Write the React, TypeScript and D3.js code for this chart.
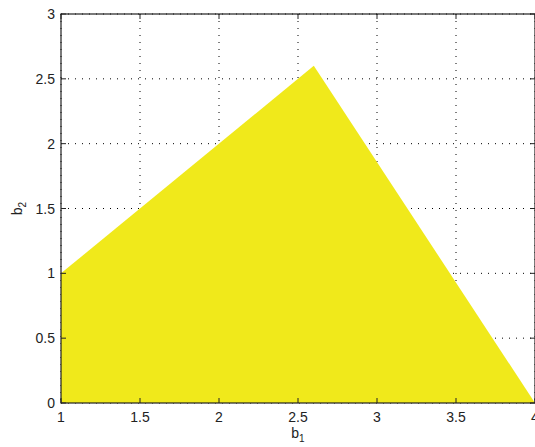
import React from "react";
import * as d3 from "d3";

const xTicks = [1, 1.5, 2, 2.5, 3, 3.5, 4];
const yTicks = [0, 0.5, 1, 1.5, 2, 2.5, 3];
const regionX = [1, 1, 2.6, 4];
const regionY = [0, 1, 2.6, 0];
const fillColor = "#f0e91b";

export default function App() {
  const W = 535, H = 447;
  const left = 61, right = 535, top = 14, bottom = 403;
  const x = d3.scaleLinear().domain([1, 4]).range([left, right]);
  const y = d3.scaleLinear().domain([0, 3]).range([bottom, top]);
  const pts: [number, number][] = regionX.map((v, i) => [v, regionY[i]]);
  const line = d3.line<[number, number]>().x(d => x(d[0])).y(d => y(d[1]));
  const path = line(pts) + "Z";
  const font = "Helvetica, Arial, 'Liberation Sans', sans-serif";
  return (
    <svg width={W} height={H} style={{ position: "absolute", left: 0, top: 0 }} fontFamily={font}>
      <rect width={W} height={H} fill="white" />
      {xTicks.map(t => (
        <line key={"gx" + t} x1={x(t)} x2={x(t)} y1={top} y2={bottom} stroke="#000" strokeWidth={1} strokeDasharray="1,6" />
      ))}
      {yTicks.map(t => (
        <line key={"gy" + t} x1={left} x2={right} y1={y(t)} y2={y(t)} stroke="#000" strokeWidth={1} strokeDasharray="1,6" />
      ))}
      <path d={path} fill={fillColor} stroke="none" />
      <rect x={left} y={top} width={right - left} height={bottom - top} fill="none" stroke="#222" strokeWidth={1.2} />
      {xTicks.map(t => (
        <g key={"tx" + t}>
          <line x1={x(t)} x2={x(t)} y1={bottom} y2={bottom - 5} stroke="#222" />
          <line x1={x(t)} x2={x(t)} y1={top} y2={top + 5} stroke="#222" />
          <text x={x(t)} y={bottom + 19} textAnchor="middle" fontSize={14} fill="#222">{String(t)}</text>
        </g>
      ))}
      {yTicks.map(t => (
        <g key={"ty" + t}>
          <line x1={left} x2={left + 5} y1={y(t)} y2={y(t)} stroke="#222" />
          <line x1={right} x2={right - 5} y1={y(t)} y2={y(t)} stroke="#222" />
          <text x={left - 6} y={y(t) + 5} textAnchor="end" fontSize={14} fill="#222">{String(t)}</text>
        </g>
      ))}
      <text x={(left + right) / 2} y={438} textAnchor="middle" fontSize={14} fill="#222">
        b<tspan fontSize={10} dy={4}>1</tspan>
      </text>
      <text transform={`translate(22, ${(top + bottom) / 2}) rotate(-90)`} textAnchor="middle" fontSize={14} fill="#222">
        b<tspan fontSize={10} dy={4}>2</tspan>
      </text>
    </svg>
  );
}
